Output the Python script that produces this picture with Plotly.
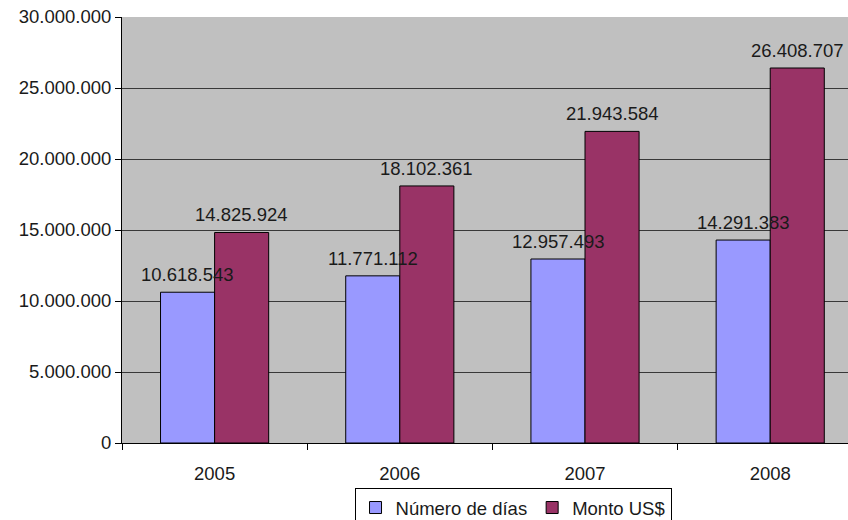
import plotly.graph_objects as go

years = ["2005", "2006", "2007", "2008"]
numero_dias = [10618543, 11771112, 12957493, 14291383]
monto_usd = [14825924, 18102361, 21943584, 26408707]
y_ticks = [0, 5000000, 10000000, 15000000, 20000000, 25000000, 30000000]

FONT = "Liberation Sans, Arial, sans-serif"
TXT = "#1a1a1a"
FS = 18.5


def fmt(v):
    return f"{v:,d}".replace(",", ".")


fig = go.Figure()
fig.add_trace(go.Bar(
    x=years, y=numero_dias, name="Número de días",
    marker=dict(color="#9999FF", line=dict(color="#000000", width=1)),
))
fig.add_trace(go.Bar(
    x=years, y=monto_usd, name="Monto US$",
    marker=dict(color="#993366", line=dict(color="#000000", width=1)),
))

# value labels above bars (annotations so they sit on top of neighbouring bars)
bar_half = 27
for series, shift in ((numero_dias, -bar_half), (monto_usd, bar_half)):
    for i, v in enumerate(series):
        fig.add_annotation(
            x=i, y=v, xref="x", yref="y", text=fmt(v), showarrow=False,
            xanchor="center", yanchor="bottom", xshift=shift, yshift=5,
            font=dict(family=FONT, size=FS, color=TXT),
        )

fig.update_layout(
    width=848, height=520,
    margin=dict(l=122, r=0, t=17, b=77),
    paper_bgcolor="white", plot_bgcolor="#C0C0C0",
    separators=",.",
    barmode="group", bargap=0.416, bargroupgap=0,
    font=dict(family=FONT, size=FS, color=TXT),
    showlegend=True,
    legend=dict(
        orientation="h", x=0.5386, xanchor="center",
        yref="container", y=(520 - 488) / 520, yanchor="top",
        bordercolor="#000000", borderwidth=1, bgcolor="white",
        font=dict(family=FONT, size=FS, color=TXT),
        tracegroupgap=0,
    ),
    xaxis=dict(
        type="category", range=[-0.5, 3.42],
        showline=True, linecolor="#000000", linewidth=1,
        ticks="outside", tickson="boundaries", ticklen=6, tickcolor="#000000",
        showgrid=False, tickfont=dict(size=FS), ticklabelstandoff=14,
    ),
    yaxis=dict(
        range=[0, 30000000], tickvals=y_ticks, tickformat=",d",
        showline=True, linecolor="#000000", linewidth=1,
        ticks="outside", ticklen=6, tickcolor="#000000",
        showgrid=True, gridcolor="#383838", gridwidth=1,
        zeroline=False, tickfont=dict(size=FS),
    ),
)

fig.write_html("out.html")
